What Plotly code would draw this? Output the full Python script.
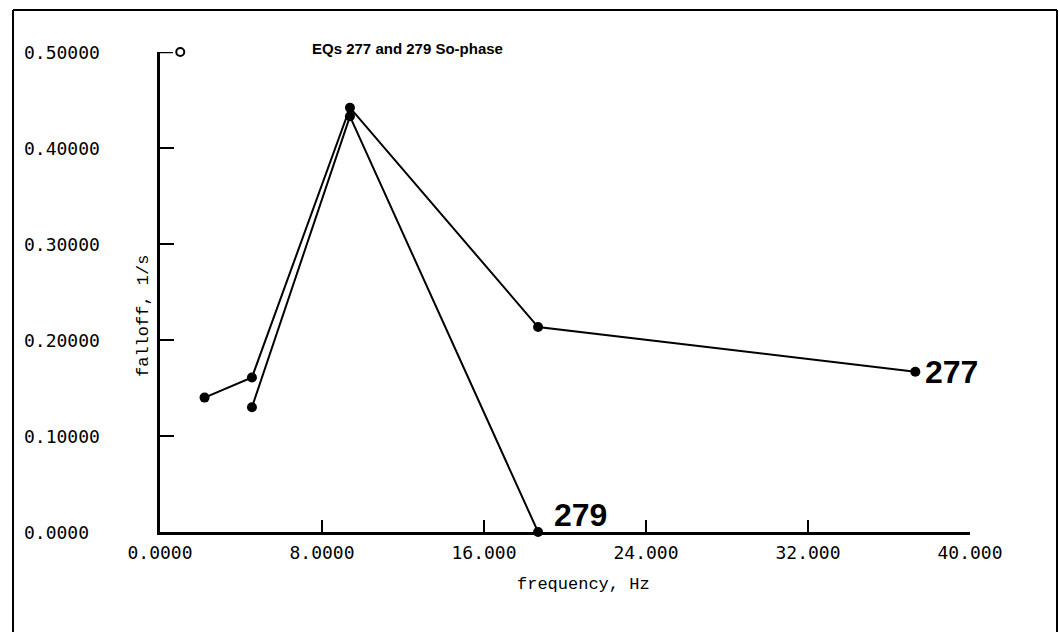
import plotly.graph_objects as go

# Spectral falloff versus frequency for two events
freq_277 = [2.2, 4.54, 9.38, 18.67, 37.3]
falloff_277 = [0.140, 0.161, 0.442, 0.2135, 0.167]

freq_279 = [4.54, 9.38, 18.67]
falloff_279 = [0.130, 0.433, 0.0]

x_ticks = [0, 8, 16, 24, 32, 40]
x_tick_text = ["0.0000", "8.0000", "16.000", "24.000", "32.000", "40.000"]
y_ticks = [0.0, 0.1, 0.2, 0.3, 0.4, 0.5]
y_tick_text = ["0.0000", "0.10000", "0.20000", "0.30000", "0.40000", "0.50000"]

W, H = 1059, 632
ML, MR, MT, MB = 160, 89, 52, 100
PW, PH = W - ML - MR, H - MT - MB


def px_x(p):
    return (p - ML) / PW


def px_y(p):
    return (H - MB - p) / PH


line_style = dict(color="black", width=2)
marker_style = dict(color="black", size=10)

fig = go.Figure()
fig.add_trace(go.Scatter(x=freq_277, y=falloff_277, mode="lines+markers",
                         line=line_style, marker=marker_style, cliponaxis=False,
                         showlegend=False))
fig.add_trace(go.Scatter(x=freq_279, y=falloff_279, mode="lines+markers",
                         line=line_style, marker=marker_style, cliponaxis=False,
                         showlegend=False))

# open circle capping the top of the y axis
fig.add_trace(go.Scatter(x=[1.0], y=[y_ticks[-1]], mode="markers",
                         marker=dict(symbol="circle-open", color="black", size=8,
                                     line=dict(width=2)),
                         cliponaxis=False, showlegend=False))

tick_font = dict(family="DejaVu Sans Mono", size=18, color="black")

fig.update_layout(
    width=W, height=H,
    margin=dict(l=ML, r=MR, t=MT, b=MB),
    paper_bgcolor="white", plot_bgcolor="white",
    xaxis=dict(range=[x_ticks[0], x_ticks[-1]], tickvals=x_ticks, ticktext=x_tick_text,
               ticks="inside", ticklen=12, tickwidth=2, tickcolor="black",
               showline=True, linecolor="black", linewidth=2.5,
               showgrid=False, zeroline=False, tickfont=tick_font,
               ticklabelstandoff=3),
    yaxis=dict(range=[y_ticks[0], y_ticks[-1]], tickvals=y_ticks,
               ticks="inside", ticklen=14, tickwidth=2, tickcolor="black",
               showline=True, linecolor="black", linewidth=2.5,
               showgrid=False, zeroline=False, showticklabels=False),
)

# y tick labels, left-aligned at the far left of the frame
for v, t in zip(y_ticks, y_tick_text):
    fig.add_annotation(x=px_x(22), xref="paper", y=v, yref="y", text=t,
                       showarrow=False, xanchor="left", yanchor="middle",
                       font=tick_font)

# short stub at the top of the y axis
fig.add_shape(type="line", xref="paper", yref="y", x0=0, x1=px_x(173),
              y0=y_ticks[-1], y1=y_ticks[-1], line=dict(color="black", width=2.5))

# axis titles
mono = dict(family="Liberation Mono", size=17, color="black")
fig.add_annotation(x=px_x(143), xref="paper", y=px_y(316), yref="paper",
                   text="falloff, 1/s", showarrow=False, textangle=-90,
                   xanchor="center", yanchor="middle", font=mono)
fig.add_annotation(x=px_x(583), xref="paper", y=px_y(584), yref="paper",
                   text="frequency, Hz", showarrow=False,
                   xanchor="center", yanchor="middle", font=mono)

# chart title
fig.add_annotation(x=px_x(310), xref="paper", y=px_y(48), yref="paper",
                   text="<b>EQs 277 and 279 So-phase</b>", showarrow=False,
                   xanchor="left", yanchor="middle",
                   font=dict(family="Liberation Sans", size=15, color="black"))

# series labels at the last point of each curve
label_font = dict(family="Liberation Sans", size=32, color="black")
fig.add_annotation(x=freq_277[-1], y=falloff_277[-1], text="<b>277</b>",
                   showarrow=False, xanchor="left", yanchor="middle",
                   xshift=8, font=label_font)
fig.add_annotation(x=freq_279[-1], y=falloff_279[-1], text="<b>279</b>",
                   showarrow=False, xanchor="left", yanchor="middle",
                   xshift=14, yshift=17, font=label_font)

# outer frame
frame = dict(color="black", width=2)
fx0, fx1, fy0, fy1 = px_x(13), px_x(1057), px_y(650), px_y(10)
fig.add_shape(type="line", xref="paper", yref="paper", x0=fx0, x1=fx0, y0=fy0, y1=fy1, line=frame)
fig.add_shape(type="line", xref="paper", yref="paper", x0=fx0, x1=fx1, y0=fy1, y1=fy1, line=frame)
fig.add_shape(type="line", xref="paper", yref="paper", x0=fx1, x1=fx1, y0=fy0, y1=fy1, line=frame)

fig.write_html("out.html")
